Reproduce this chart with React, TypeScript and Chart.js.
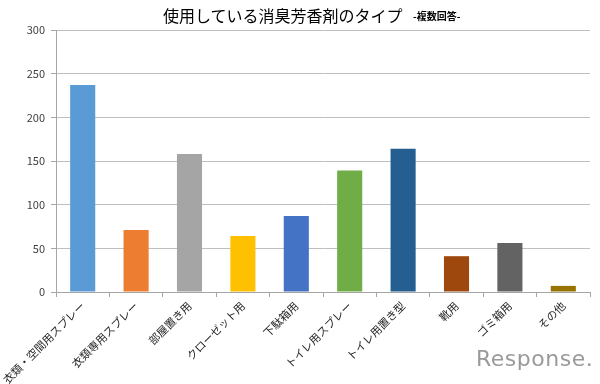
import React, { useEffect, useRef } from "react";
import { Chart, registerables } from "chart.js";

Chart.register(...registerables);

const categories = [
  "衣類・空間用スプレー",
  "衣類専用スプレー",
  "部屋置き用",
  "クローゼット用",
  "下駄箱用",
  "トイレ用スプレー",
  "トイレ用置き型",
  "靴用",
  "ゴミ箱用",
  "その他",
];
const values = [237, 71, 158, 64, 87, 139, 164, 41, 56, 7];
const barColors = [
  "#5B9BD5",
  "#ED7D31",
  "#A5A5A5",
  "#FFC000",
  "#4472C4",
  "#70AD47",
  "#255E91",
  "#9E480E",
  "#636363",
  "#997300",
];
const yTicks = [0, 50, 100, 150, 200, 250, 300];
const titleMain = "使用している消臭芳香剤のタイプ";
const titleSub = "-複数回答-";
const watermark = "Response.";

const FONT = "'Noto Sans CJK JP', 'Noto Sans', sans-serif";

export default function App() {
  const ref = useRef<HTMLCanvasElement | null>(null);
  useEffect(() => {
    if (!ref.current) return;
    const chart = new Chart(ref.current, {
      type: "bar",
      data: {
        labels: categories,
        datasets: [
          {
            data: values,
            backgroundColor: barColors,
            borderWidth: 0,
            barPercentage: 0.47,
            categoryPercentage: 1,
          },
        ],
      },
      options: {
        animation: false,
        responsive: false,
        maintainAspectRatio: false,
        layout: { padding: { top: 30, right: 10, left: 0, bottom: 0 } },
        plugins: {
          legend: { display: false },
          tooltip: { enabled: false },
        },
        scales: {
          x: {
            afterFit: (axis: any) => {
              axis.height = 92;
            },
            grid: {
              display: true,
              drawOnChartArea: false,
              drawTicks: true,
              tickLength: 5,
              color: "#a6a6a6",
              offset: true,
            },
            border: { color: "#a6a6a6" },
            ticks: {
              minRotation: 45,
              maxRotation: 45,
              autoSkip: false,
              color: "#262626",
              font: { family: FONT, size: 11 },
              padding: 2,
            },
          },
          y: {
            min: 0,
            max: 300,
            afterFit: (axis: any) => {
              axis.width = 56;
            },
            afterBuildTicks: (axis: any) => {
              axis.ticks = yTicks.map((v) => ({ value: v }));
            },
            grid: {
              color: "#bfbfbf",
              drawTicks: true,
              tickLength: 5,
              tickColor: "#a6a6a6",
            },
            border: { color: "#a6a6a6" },
            ticks: {
              color: "#404040",
              font: { family: FONT, size: 11 },
              padding: 6,
            },
          },
        },
      },
    });
    return () => chart.destroy();
  }, []);

  return (
    <div style={{ position: "fixed", left: 0, top: 0, width: 600, height: 384, background: "#fff" }}>
      <canvas ref={ref} width={600} height={384} style={{ position: "absolute", left: 0, top: 0 }} />
      <div
        style={{
          position: "absolute",
          left: 163,
          top: 3,
          fontFamily: FONT,
          fontSize: 16,
          lineHeight: "24px",
          color: "#000",
          whiteSpace: "nowrap",
        }}
      >
        {titleMain}
      </div>
      <div
        style={{
          position: "absolute",
          left: 413,
          top: 8,
          fontFamily: FONT,
          fontSize: 10,
          fontWeight: 700,
          lineHeight: "16px",
          color: "#000",
          whiteSpace: "nowrap",
        }}
      >
        {titleSub}
      </div>
      <div
        style={{
          position: "absolute",
          left: 476,
          top: 346,
          fontFamily: "'DejaVu Sans', sans-serif",
          fontSize: 22,
          color: "#9a9a9a",
          letterSpacing: 0.5,
        }}
      >
        {watermark}
      </div>
    </div>
  );
}
